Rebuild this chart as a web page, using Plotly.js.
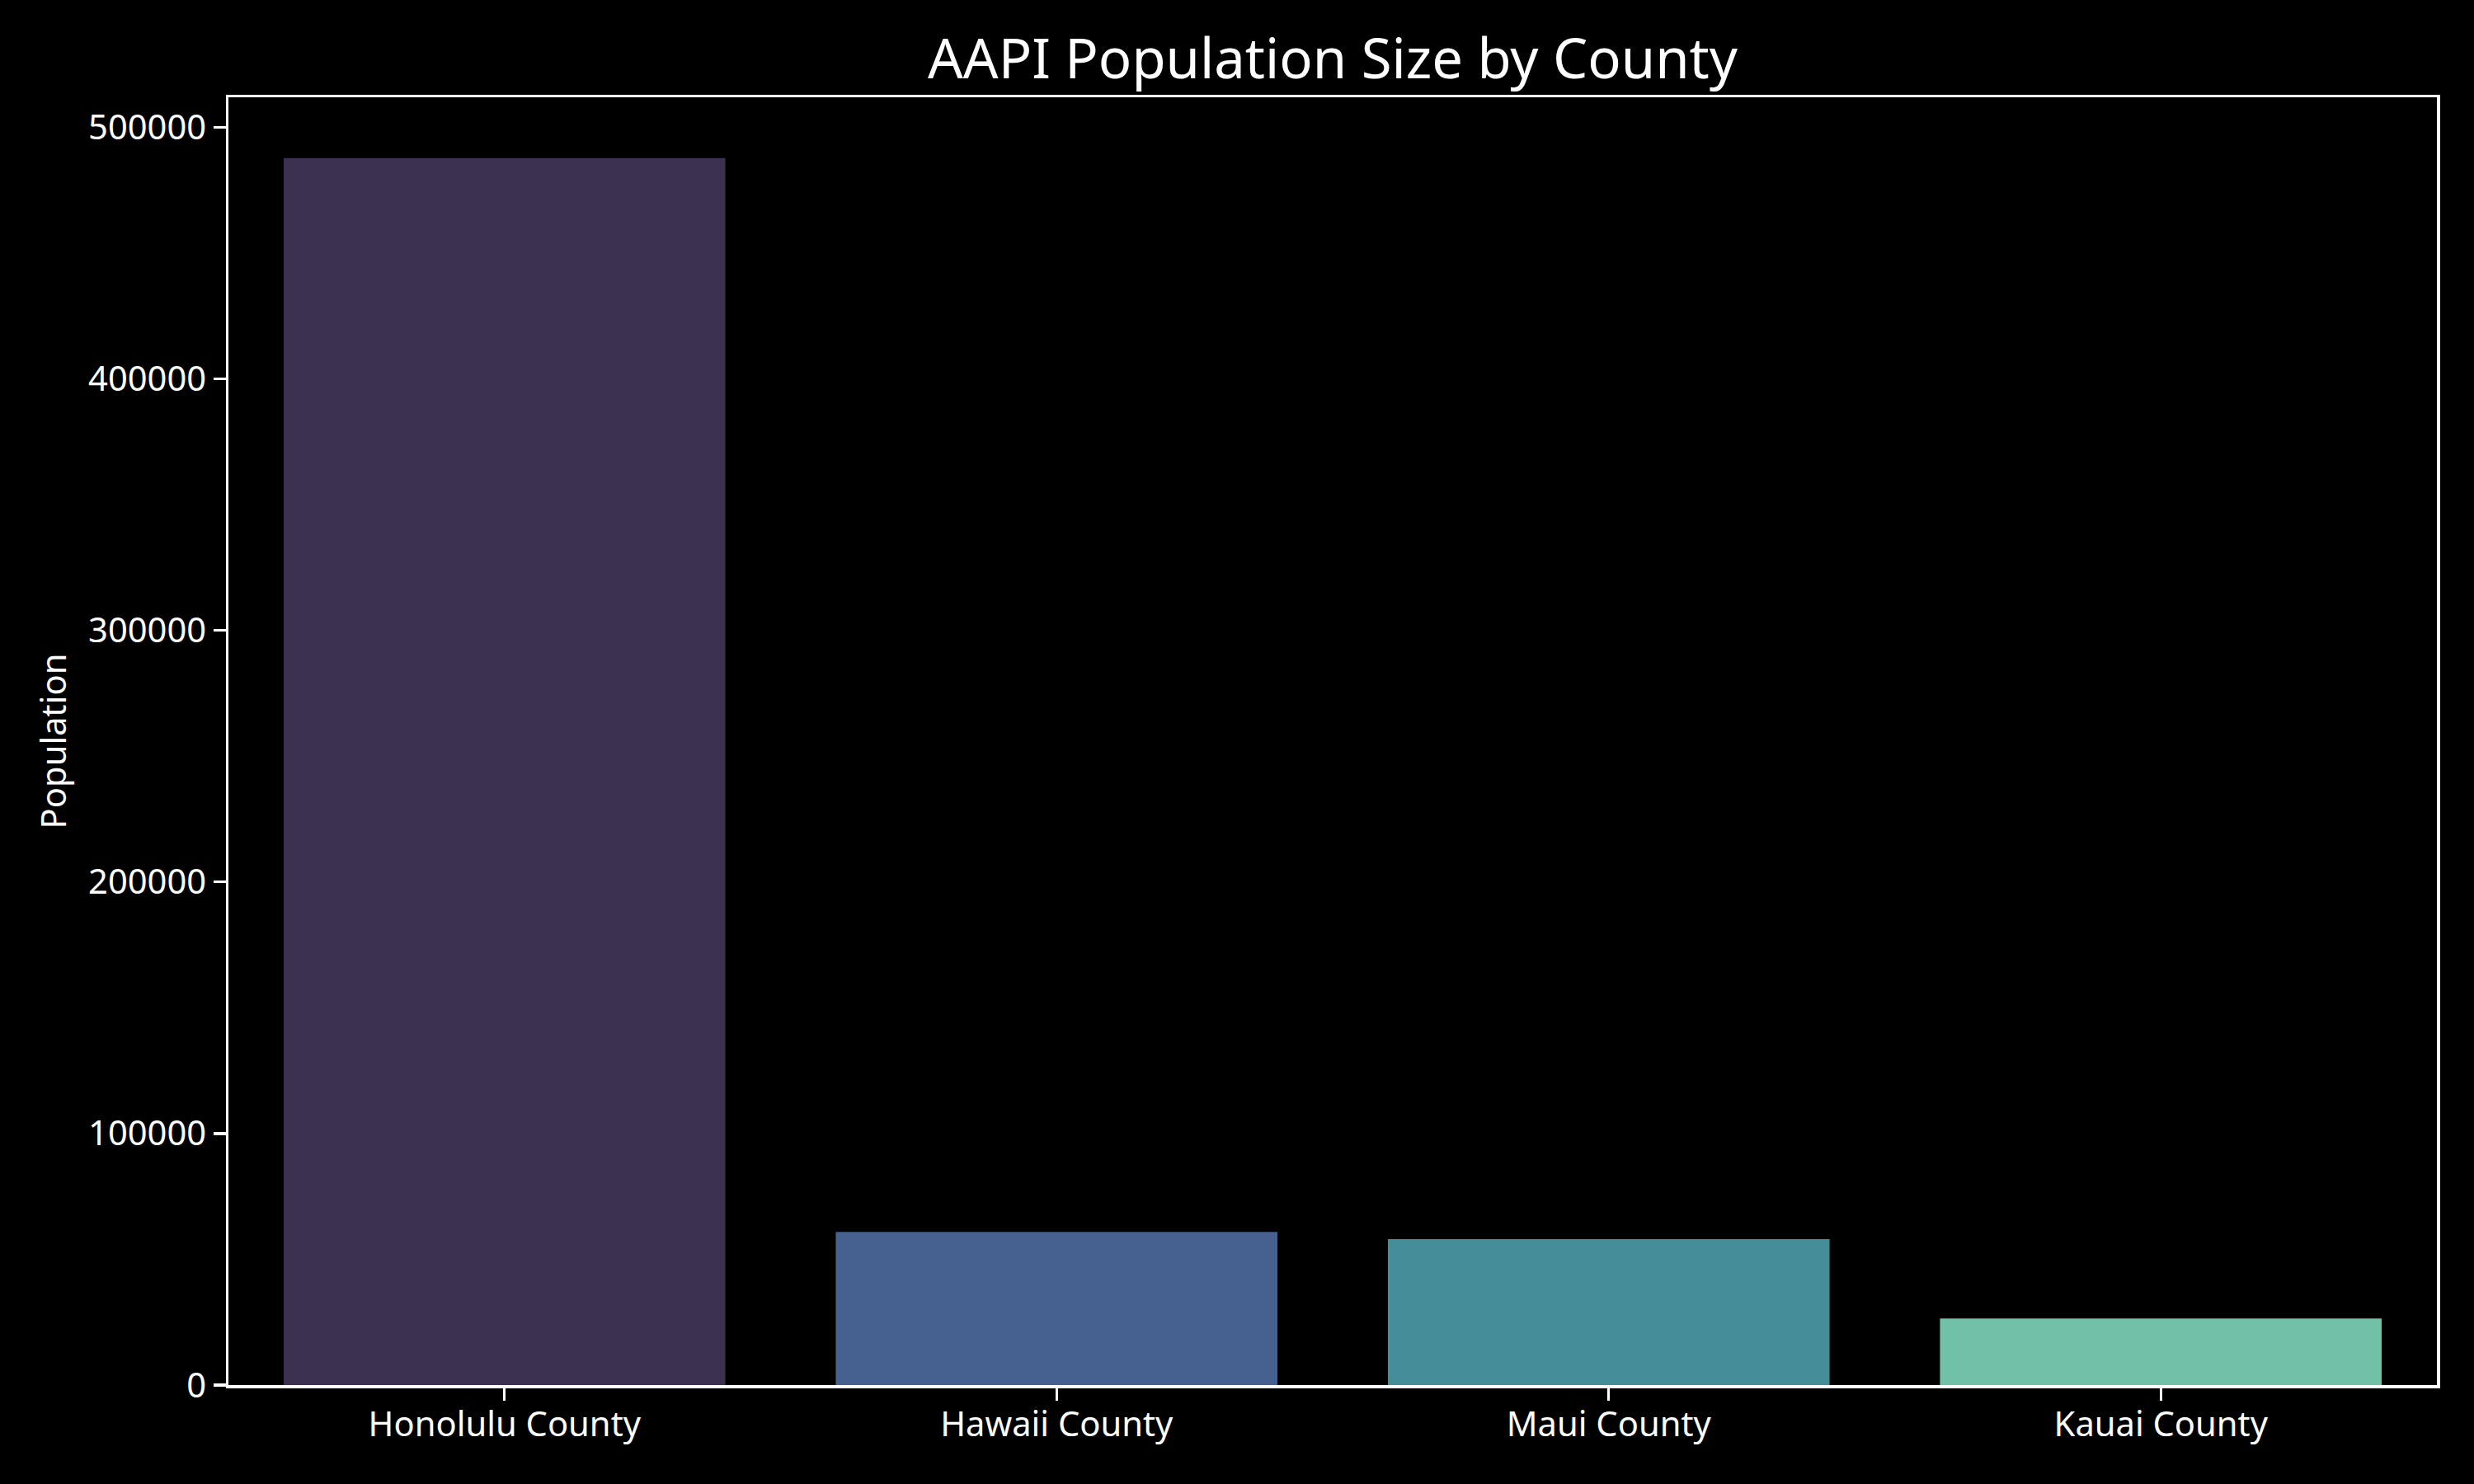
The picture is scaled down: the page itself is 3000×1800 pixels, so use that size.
<!DOCTYPE html>
<html>
<head>
<meta charset="utf-8">
<script src="https://cdn.plot.ly/plotly-3.0.1.min.js"></script>
<style>html,body{margin:0;padding:0;background:#000;}</style>
</head>
<body>
<div id="chart" style="width:3000px;height:1800px;"></div>
<script>
const counties = ["Honolulu County", "Hawaii County", "Maui County", "Kauai County"];
const population = [487700, 60900, 58000, 26500];
const barColors = ["#3c3150", "#46618f", "#458e99", "#70c1a8"];
const yTicks = [0, 100000, 200000, 300000, 400000, 500000];

const fontFamily = '"Noto Sans", "Open Sans", sans-serif';

const trace = {
  type: 'bar',
  x: counties,
  y: population,
  marker: { color: barColors, line: { width: 0 } },
  hoverinfo: 'x+y'
};

const axisCommon = {
  showgrid: false,
  zeroline: false,
  showline: true,
  linecolor: '#ffffff',
  linewidth: 3.5,
  mirror: true,
  ticks: 'outside',
  ticklen: 15,
  tickwidth: 3.3,
  tickcolor: '#ffffff',
  tickfont: { family: fontFamily, size: 41.7, color: '#ffffff' }
};

const mL = 277, mR = 45;

const layout = {
  width: 3000,
  height: 1800,
  paper_bgcolor: '#000000',
  plot_bgcolor: '#000000',
  margin: { l: mL, r: mR, t: 118, b: 120, pad: 0 },
  showlegend: false,
  bargap: 0.2,
  title: {
    text: 'AAPI Population Size by County',
    font: { family: fontFamily, size: 67, color: '#ffffff' },
    x: 0.5 + (mL - mR) / 2 / 3000,
    xanchor: 'center',
    y: 1 - 95 / 1800,
    yanchor: 'bottom',
    yref: 'container'
  },
  xaxis: Object.assign({}, axisCommon, {
    type: 'category',
    range: [-0.5, 3.5],
    automargin: false,
    ticklabelstandoff: -7
  }),
  yaxis: Object.assign({}, axisCommon, {
    range: [0, 511900],
    tickmode: 'array',
    tickvals: yTicks,
    ticktext: yTicks.map(v => String(v)),
    automargin: false,
    title: {
      text: 'Population',
      font: { family: fontFamily, size: 41.7, color: '#ffffff' },
      standoff: 14
    }
  })
};

Plotly.newPlot('chart', [trace], layout, { displayModeBar: false, staticPlot: true });
</script>
</body>
</html>
